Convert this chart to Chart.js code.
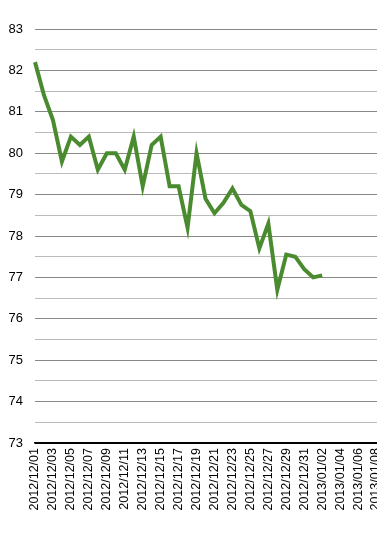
<!DOCTYPE html>
<html lang="en">
<head>
    <meta charset="UTF-8">
    <title>Daily values</title>
    <script src="https://cdn.jsdelivr.net/npm/chart.js@4.4.0/dist/chart.umd.min.js"></script>
    <style>
        body {
            margin: 0;
            padding: 0;
            background: #fff;
            overflow: hidden;
        }
        #wrap {
            width: 377px;
            height: 553px;
            overflow: hidden;
        }
    </style>
</head>
<body>
    <div id="wrap">
        <canvas id="lineChart" width="405" height="553"></canvas>
    </div>
    <script>
        const dates = [
            '2012/12/01', '2012/12/02', '2012/12/03', '2012/12/04', '2012/12/05',
            '2012/12/06', '2012/12/07', '2012/12/08', '2012/12/09', '2012/12/10',
            '2012/12/11', '2012/12/12', '2012/12/13', '2012/12/14', '2012/12/15',
            '2012/12/16', '2012/12/17', '2012/12/18', '2012/12/19', '2012/12/20',
            '2012/12/21', '2012/12/22', '2012/12/23', '2012/12/24', '2012/12/25',
            '2012/12/26', '2012/12/27', '2012/12/28', '2012/12/29', '2012/12/30',
            '2012/12/31', '2013/01/01', '2013/01/02', '2013/01/03', '2013/01/04',
            '2013/01/05', '2013/01/06', '2013/01/07', '2013/01/08', '2013/01/09'
        ];
        const values = [
            82.2, 81.4, 80.8, 79.8, 80.4, 80.2, 80.4, 79.6, 80.0, 80.0,
            79.6, 80.4, 79.2, 80.2, 80.4, 79.2, 79.2, 78.2, 80.0, 78.9,
            78.55, 78.8, 79.15, 78.75, 78.6, 77.7, 78.3, 76.7, 77.55, 77.5,
            77.2, 77.0, 77.05
        ];
        const yMin = 73;
        const yMax = 83;

        const ctx = document.getElementById('lineChart').getContext('2d');
        new Chart(ctx, {
            type: 'line',
            data: {
                labels: dates,
                datasets: [{
                    data: values,
                    borderColor: '#4a8b2f',
                    borderWidth: 4,
                    pointRadius: 0,
                    tension: 0,
                    fill: false
                }]
            },
            options: {
                responsive: false,
                animation: false,
                layout: {
                    padding: { top: 29, right: 2, left: 0, bottom: 0 }
                },
                plugins: {
                    legend: { display: false },
                    tooltip: { enabled: false }
                },
                scales: {
                    x: {
                        grid: { display: false, drawTicks: false },
                        border: { color: '#000', width: 1.5 },
                        ticks: {
                            autoSkip: false,
                            maxRotation: 90,
                            minRotation: 90,
                            padding: 5,
                            color: '#000',
                            font: { family: 'Liberation Sans', size: 12.5 },
                            callback: function(value, index) {
                                return index % 2 === 0 ? dates[index] : '';
                            }
                        },
                        afterFit: function(scale) {
                            scale.height = 110;
                        }
                    },
                    y: {
                        min: yMin,
                        max: yMax,
                        border: { display: false },
                        grid: {
                            drawTicks: false,
                            color: function(c) {
                                const v = c.tick.value;
                                if (v === yMin) return '#000';
                                return Number.isInteger(v) ? '#888' : '#bbb';
                            }
                        },
                        ticks: {
                            stepSize: 0.5,
                            padding: 12,
                            color: '#000',
                            font: { family: 'Liberation Sans', size: 13 },
                            callback: function(value) {
                                return Number.isInteger(value) ? value : '';
                            }
                        },
                        afterFit: function(scale) {
                            scale.width = 35;
                        }
                    }
                }
            }
        });
    </script>
</body>
</html>
